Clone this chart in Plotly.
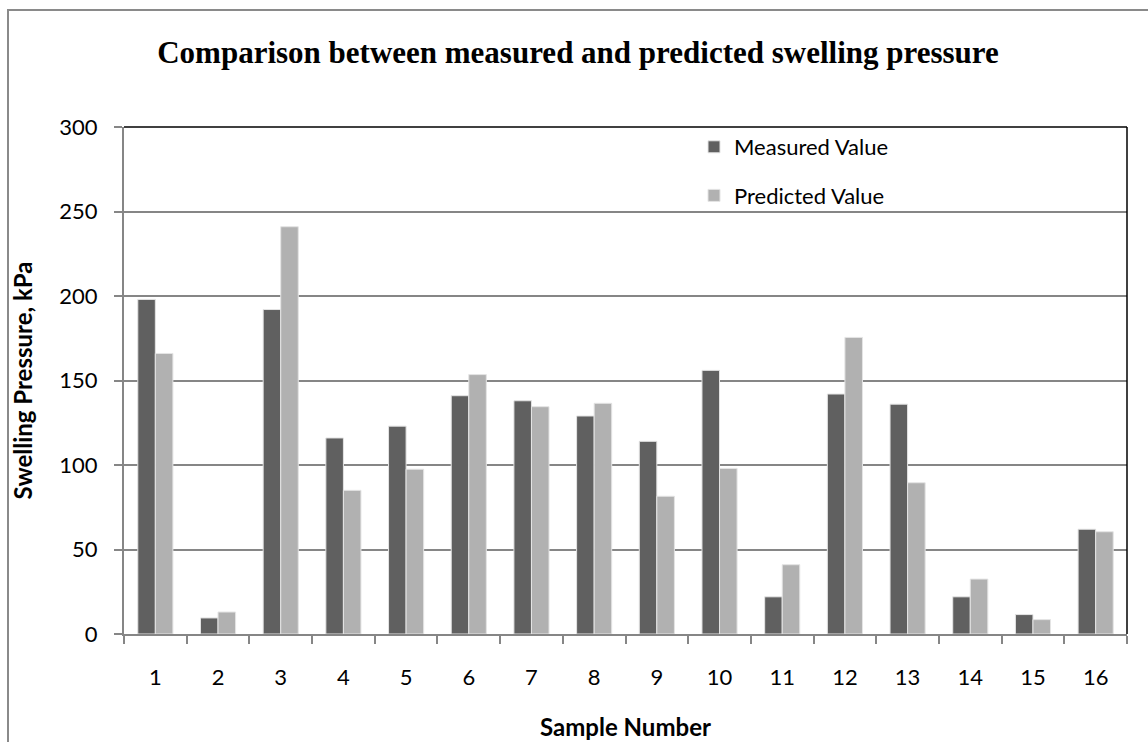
import plotly.graph_objects as go

samples = [str(i) for i in range(1, 17)]
measured = [198, 9.5, 192, 116, 123, 141, 138, 129, 114, 156, 22, 142, 136, 22, 11.5, 62]
predicted = [166, 13, 241, 85, 97.5, 153.5, 134.5, 136.5, 81.5, 98, 41, 175.5, 89.5, 32.5, 8.5, 60.5]
y_ticks = [0, 50, 100, 150, 200, 250, 300]

SANS = "Lato, 'Open Sans', sans-serif"
GRAY = "#868686"

fig = go.Figure()
fig.add_trace(go.Bar(x=samples, y=measured, name="Measured Value", legendgroup="m",
                     marker=dict(color="#606060", line=dict(color="#e4e4e4", width=1))))
fig.add_trace(go.Bar(x=samples, y=predicted, name="Predicted Value", legendgroup="p",
                     marker=dict(color="#b1b1b1", line=dict(color="#e4e4e4", width=1))))

L, T, R, B = 124, 127, 1127, 634
W, H = 1148, 742
pw, ph = R - L, B - T

def px(x):
    return (x - L) / pw

def py(y):
    return (B - y) / ph

shapes = [
    dict(type="rect", xref="paper", yref="paper", x0=px(8), y0=py(760), x1=px(1170), y1=py(10),
         line=dict(color="#8a8a8a", width=2), layer="below"),
    dict(type="line", xref="paper", yref="paper", x0=0, y0=1, x1=1, y1=1,
         line=dict(color="black", width=1.5), layer="above"),
    dict(type="line", xref="paper", yref="paper", x0=1, y0=0, x1=1, y1=1,
         line=dict(color="black", width=1.5), layer="above"),
]

fig.update_layout(
    width=W, height=H,
    margin=dict(l=L, r=W - R, t=T, b=H - B, pad=0, autoexpand=False),
    paper_bgcolor="white", plot_bgcolor="white",
    barmode="group", bargap=0.44, bargroupgap=0,
    title=dict(text="<b>Comparison between measured and predicted swelling pressure</b>",
               font=dict(family="'Liberation Serif', 'Times New Roman', serif", size=31, color="black"),
               xref="container", x=578 / W, xanchor="center",
               yref="container", y=1 - 52 / H, yanchor="middle"),
    font=dict(family=SANS, size=22, color="black"),
    showlegend=True,
    legend=dict(x=px(694), xanchor="left", y=py(126), yanchor="top",
                font=dict(family=SANS, size=22, color="black"),
                tracegroupgap=17, traceorder="grouped", bgcolor="rgba(0,0,0,0)"),
    shapes=shapes,
)

fig.update_xaxes(
    type="category", tickson="boundaries", ticks="outside", ticklen=8, tickwidth=1.5,
    tickcolor=GRAY, showline=True, linecolor=GRAY, linewidth=2, showgrid=False,
    ticklabelstandoff=23, automargin=False,
    tickfont=dict(family=SANS, size=22, color="black"),
    title=dict(text="<b>Sample Number</b>", font=dict(family=SANS, size=24, color="black"), standoff=30),
)
fig.update_yaxes(
    range=[0, 300], tickvals=y_ticks, ticks="outside", ticklen=8, tickwidth=1.5, tickcolor=GRAY,
    showline=True, linecolor=GRAY, linewidth=2, showgrid=True, gridcolor=GRAY, gridwidth=1.5,
    zeroline=False, ticklabelstandoff=12, automargin=False,
    tickfont=dict(family=SANS, size=22, color="black"),
    title=dict(text="<b>Swelling Pressure, kPa</b>", font=dict(family=SANS, size=24, color="black"), standoff=20),
)

fig.write_html("out.html")
